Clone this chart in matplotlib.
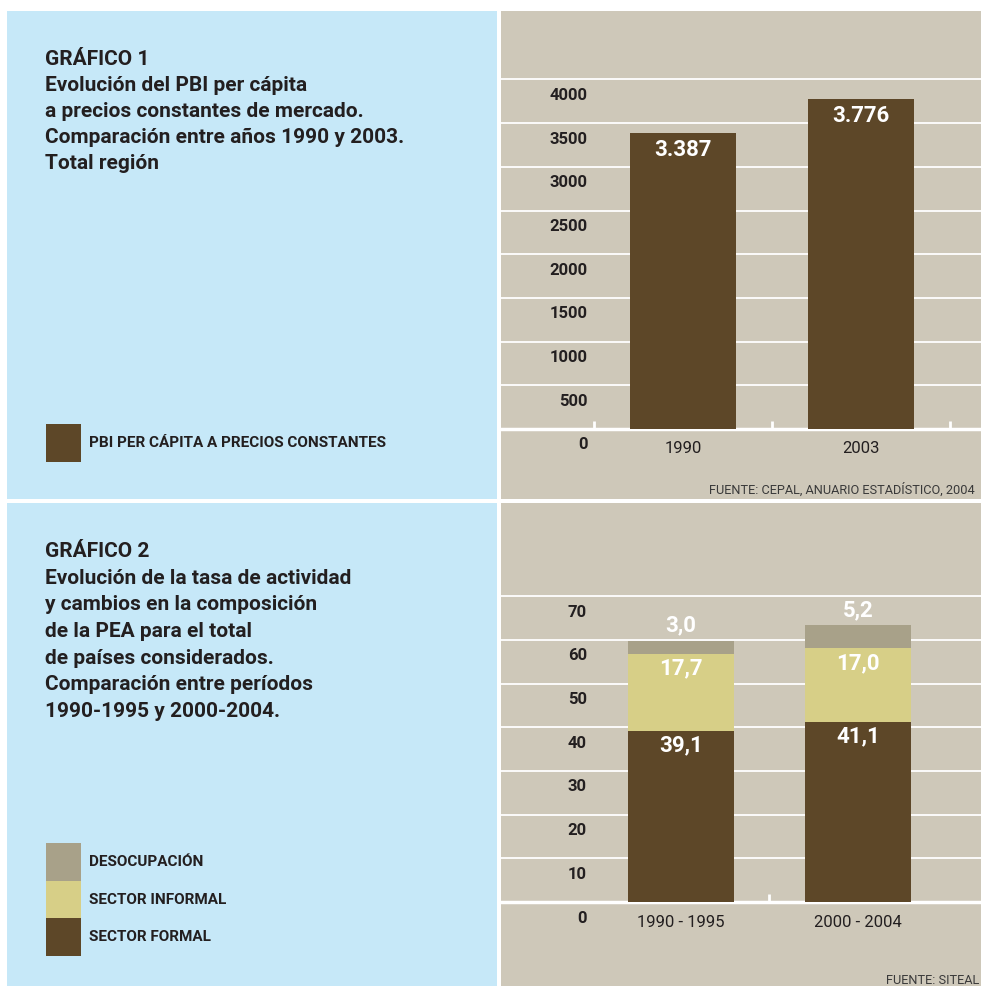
import numpy as np
import matplotlib

matplotlib.use('Agg')
import matplotlib.pyplot as plt
from matplotlib.patches import Rectangle

plt.rcParams['font.family'] = ['Roboto', 'DejaVu Sans']

# Gráfico 1: PBI per cápita
years = ['1990', '2003']
pbi = [3387, 3776]
pbi_ticks = [0, 500, 1000, 1500, 2000, 2500, 3000, 3500, 4000]

# Gráfico 2: composición de la PEA
periods = ['1990 - 1995', '2000 - 2004']
formal = [39.1, 41.1]
informal = [17.7, 17.0]
desocupacion = [3.0, 5.2]
pea_ticks = [0, 10, 20, 30, 40, 50, 60, 70]

BLUE = '#c6e8f8'
BEIGE = '#cec8b9'
BROWN = '#5d4728'
YELLOW = '#d7cf87'
GRAY = '#a8a189'
INK = '#231f20'

W, H = 981, 986


def box(x0, y0, x1, y1):
    # pixel box (top-down) -> figure fraction [left, bottom, width, height]
    return [x0 / W, 1 - y1 / H, (x1 - x0) / W, (y1 - y0) / H]


def style_axes(ax, yticks, label_x):
    ax.set_yticks(yticks)
    ax.set_yticklabels([])
    ax.tick_params(axis='y', length=0)
    ax.grid(axis='y', color='white', linewidth=1.3)
    ax.set_axisbelow(True)
    for s in ['top', 'left', 'right']:
        ax.spines[s].set_visible(False)
    ax.spines['bottom'].set_position(('data', 0))
    ax.spines['bottom'].set_color('white')
    ax.spines['bottom'].set_linewidth(2.5)
    ax.tick_params(axis='x', which='major', length=0, pad=9, labelsize=12, labelcolor=INK)
    ax.tick_params(axis='x', which='minor', direction='in', length=6, width=2, color='white')
    # y labels sit just under each gridline
    for v in yticks:
        ax.annotate(str(v), xy=(label_x, v), xycoords=ax.get_yaxis_transform(),
                    xytext=(0, -16), textcoords='offset pixels', ha='right', va='center',
                    fontsize=12, fontweight='bold', color=INK)


def legend_rows(entries, x0, y_top):
    # stacked colour swatches with bold labels, from the top down
    y = y_top
    for label, color, hh in entries:
        l, b, w, hgt = box(x0, y, x0 + 35, y + hh)
        fig.add_artist(Rectangle((l, b), w, hgt, transform=fig.transFigure,
                                 facecolor=color, edgecolor='none'))
        fig.text((x0 + 43) / W, 1 - (y + hh / 2) / H, label, ha='left', va='center',
                 fontsize=11, fontweight='bold', color=INK)
        y += hh


fig = plt.figure(figsize=(W / 100, H / 100), dpi=100, facecolor='white')

# left panels
for y0, y1 in [(11, 499), (503, 986)]:
    l, b, w, h = box(7, y0, 497, y1)
    fig.add_artist(Rectangle((l, b), w, h, transform=fig.transFigure, facecolor=BLUE,
                             edgecolor='none', zorder=0))

title_kw = dict(ha='left', va='top', fontsize=15, fontweight='bold', color=INK)
fig.text(45 / W, 1 - 50 / H,
         'GRÁFICO 1\nEvolución del PBI per cápita\na precios constantes de mercado.\n'
         'Comparación entre años 1990 y 2003.\nTotal región', linespacing=1.47, **title_kw)
fig.text(45 / W, 1 - 542 / H,
         'GRÁFICO 2\nEvolución de la tasa de actividad\ny cambios en la composición\n'
         'de la PEA para el total\nde países considerados.\nComparación entre períodos\n'
         '1990-1995 y 2000-2004.', linespacing=1.51, **title_kw)

# --- Gráfico 1 ---
ax1 = fig.add_axes(box(501, 11, 981, 499), facecolor=BEIGE)
x = np.arange(len(years))
ax1.bar(x, pbi, width=0.6, color=BROWN, zorder=3)
ax1.set_xlim(-1.022, 1.674)
ax1.set_ylim(-801, 4783)
ax1.set_xticks(x)
ax1.set_xticklabels(years)
ax1.set_xticks([-0.5, 0.5, 1.5], minor=True)
style_axes(ax1, pbi_ticks, (588 - 501) / 480)
for i, v in enumerate(pbi):
    ax1.annotate(f'{v:,}'.replace(',', '.'), xy=(i, v), xytext=(0, -17),
                 textcoords='offset pixels', ha='center', va='center',
                 fontsize=16, fontweight='bold', color='white', zorder=4)
fig.text(709 / W, 1 - 490 / H, 'FUENTE: CEPAL, ANUARIO ESTADÍSTICO, 2004',
         ha='left', va='center', fontsize=9.2, color='#3a3a3a')

# --- Gráfico 2 ---
ax2 = fig.add_axes(box(501, 503, 981, 986), facecolor=BEIGE)
x = np.arange(len(periods))
bottom2 = np.array(formal)
bottom3 = bottom2 + np.array(informal)
top = bottom3 + np.array(desocupacion)
ax2.bar(x, formal, width=0.6, color=BROWN, zorder=3)
ax2.bar(x, informal, width=0.6, bottom=bottom2, color=YELLOW, zorder=3)
ax2.bar(x, desocupacion, width=0.6, bottom=bottom3, color=GRAY, zorder=3)
ax2.set_xlim(-1.017, 1.695)
ax2.set_ylim(-19.2, 91.3)
ax2.set_xticks(x)
ax2.set_xticklabels(periods)
ax2.set_xticks([0.5], minor=True)
style_axes(ax2, pea_ticks, (587 - 501) / 480)


def fmt(v):
    return f'{v:.1f}'.replace('.', ',')


lab_kw = dict(textcoords='offset pixels', ha='center', va='center',
              fontsize=16, fontweight='bold', color='white', zorder=4)
for i in range(len(periods)):
    ax2.annotate(fmt(formal[i]), xy=(i, bottom2[i]), xytext=(0, -14), **lab_kw)
    ax2.annotate(fmt(informal[i]), xy=(i, bottom3[i]), xytext=(0, -15), **lab_kw)
    ax2.annotate(fmt(desocupacion[i]), xy=(i, top[i]), xytext=(0, 15), **lab_kw)
fig.text(886 / W, 1 - 980 / H, 'FUENTE: SITEAL', ha='left', va='center',
         fontsize=9.2, color='#3a3a3a')

# legends in the left panels
legend_rows([('PBI PER CÁPITA A PRECIOS CONSTANTES', BROWN, 38)], 46, 424)
legend_rows([('DESOCUPACIÓN', GRAY, 38), ('SECTOR INFORMAL', YELLOW, 37),
             ('SECTOR FORMAL', BROWN, 38)], 46, 843)

fig.savefig('out.png', dpi=100, facecolor='white')
